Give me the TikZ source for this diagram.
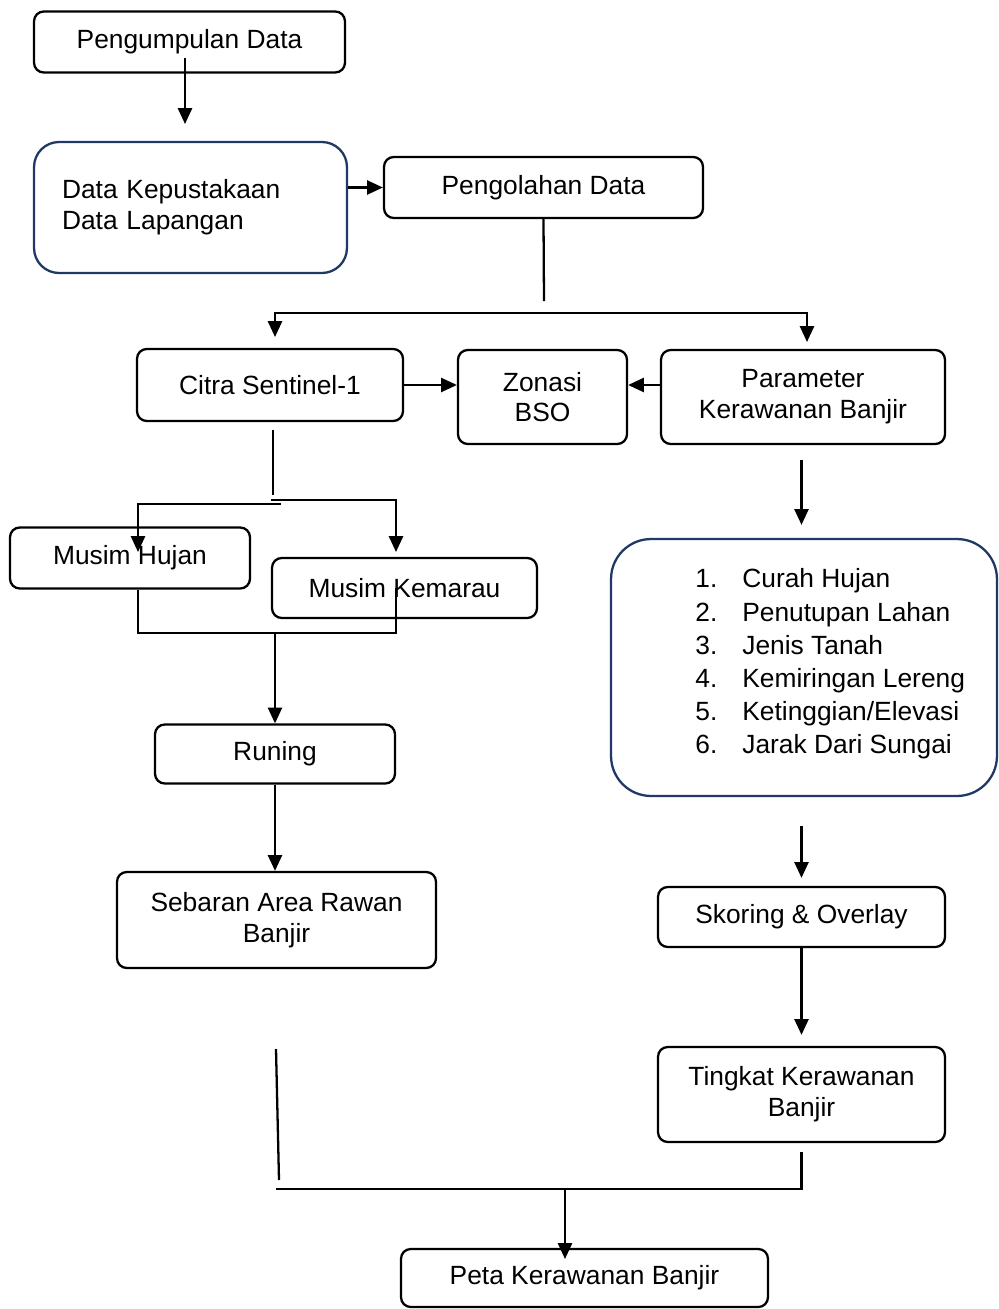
\documentclass[tikz,border=0pt]{standalone}
\usepackage{fontspec}
\setmainfont{Liberation Sans}
\usetikzlibrary{arrows.meta}
\definecolor{birutua}{HTML}{1F3864}

\begin{document}
\begin{tikzpicture}[x=0.02cm, y=-0.02cm,
    kotak/.style={draw, line width=1.3pt, rounded corners=5.5pt, align=center, inner sep=0pt,
        font=\fontsize{15}{17.5}\selectfont},
    kotakbiru/.style={kotak, draw=birutua},
    garis/.style={line width=1.3pt},
    panah/.style={garis, -{Triangle[width=8pt,length=9pt]}},
    panahdua/.style={garis, {Triangle[width=8pt,length=9pt]}-{Triangle[width=8pt,length=9pt]}}]
    \useasboundingbox (0,0) rectangle (998,1309);

    % Boxes on the left
    \node[kotak, minimum width=6.22cm, minimum height=1.22cm] (pengumpulan) at (189.5,42) {Pengumpulan Data};
    \node[kotakbiru, rounded corners=0.5cm, minimum width=6.26cm, minimum height=2.62cm,
        text width=5.14cm, align=left] (pustaka) at (190.5,207.5) {Data Kepustakaan\\Data Lapangan};
    \node[kotak, minimum width=6.38cm, minimum height=1.22cm] (pengolahan) at (543.5,187.5) {Pengolahan Data};
    \node[kotak, minimum width=5.32cm, minimum height=1.44cm] (citra) at (270,385) {Citra Sentinel-1};
    \node[kotak, minimum width=3.38cm, minimum height=1.88cm] (zonasi) at (542.5,397) {Zonasi\\BSO};
    \node[kotak, minimum width=5.68cm, minimum height=1.88cm] (parameter) at (803,397) {Parameter\\Kerawanan Banjir};
    \node[kotak, minimum width=4.8cm, minimum height=1.22cm] (hujan) at (130,558) {Musim Hujan};
    \node[kotak, minimum width=5.3cm, minimum height=1.2cm] (kemarau) at (404.5,588) {Musim Kemarau};
    \node[kotak, minimum width=4.8cm, minimum height=1.18cm] (runing) at (275,754) {Runing};
    \node[kotak, minimum width=6.38cm, minimum height=1.92cm] (sebaran) at (276.5,920) {Sebaran Area Rawan\\Banjir};

    % Boxes on the right
    \node[kotakbiru, rounded corners=0.8cm, minimum width=7.72cm, minimum height=5.14cm] (faktor) at (804,667.5) {};
    \node[anchor=west, align=left, inner sep=0pt, font=\fontsize{15}{18.9}\selectfont] (daftar) at (695,664) {%
        \makebox[0.94cm][l]{1.}Curah Hujan\\
        \makebox[0.94cm][l]{2.}Penutupan Lahan\\
        \makebox[0.94cm][l]{3.}Jenis Tanah\\
        \makebox[0.94cm][l]{4.}Kemiringan Lereng\\
        \makebox[0.94cm][l]{5.}Ketinggian/Elevasi\\
        \makebox[0.94cm][l]{6.}Jarak Dari Sungai};
    \node[kotak, minimum width=5.74cm, minimum height=1.2cm] (skoring) at (801.5,917) {Skoring \& Overlay};
    \node[kotak, minimum width=5.74cm, minimum height=1.9cm] (tingkat) at (801.5,1094.5) {Tingkat Kerawanan\\Banjir};
    \node[kotak, minimum width=7.34cm, minimum height=1.16cm] (peta) at (584.5,1278) {Peta Kerawanan Banjir};

    % Junction points
    \coordinate (k1) at (185,124);
    \coordinate (c1) at (544,301);
    \coordinate (tipL) at (275,337);
    \coordinate (kiri) at (275,313);
    \coordinate (kanan) at (807,313);
    \coordinate (tipR) at (807,342);
    \coordinate (c2) at (273,495);
    \coordinate (cabL) at (281,504);
    \coordinate (tipH) at (138,552);
    \coordinate (cabR) at (271,500);
    \coordinate (tipK) at (396,552);
    \coordinate (gabungL) at (138,633);
    \coordinate (gabungR) at (396,633);
    \coordinate (ujungA) at (276,1049);
    \coordinate (ujungB) at (279,1180);
    \coordinate (bawahL) at (276,1189);
    \coordinate (tipP) at (565,1259);

    % Connectors, upper part
    \draw[panah] ([yshift=0.32cm]pengumpulan.south -| k1) -- (k1);
    \draw[panah] (pustaka.east |- pengolahan) -- (pengolahan.west);
    \draw[garis] (pengolahan.south) -- (c1);
    \draw[panahdua] (tipL) -- (kiri) -- (kanan) -- (tipR);
    \draw[panah] (citra.east) -- (citra.east -| zonasi.west);
    \draw[panah] (parameter.west |- citra.east) -- (citra.east -| zonasi.east);

    % Connectors, left branch
    \draw[garis] ([yshift=-0.16cm]citra.south -| c2) -- (c2);
    \draw[panah] (cabL) -| (tipH);
    \draw[panah] (cabR) -| (tipK);
    \draw[garis] (hujan.south -| gabungL) -- (gabungL) -- (gabungR) -- (kemarau.center -| gabungR);
    \draw[panah] (gabungL -| runing) -- (runing.north);
    \draw[panah] (runing.south) -- (runing.south |- sebaran.north);

    % Connectors, right branch
    \draw[panah] ([yshift=-0.3cm]parameter.south -| skoring) -- ([yshift=0.26cm]faktor.north -| skoring);
    \draw[panah] ([yshift=-0.58cm]faktor.south -| skoring) -- ([yshift=0.16cm]skoring.north);
    \draw[panah] (skoring.south) -- ([yshift=0.22cm]tingkat.north);

    % Joining both results
    \draw[garis] (ujungA) -- (ujungB);
    \draw[garis] ([yshift=-0.18cm]tingkat.south) |- (bawahL);
    \draw[panah] (bawahL -| tipP) -- (tipP);
\end{tikzpicture}
\end{document}
